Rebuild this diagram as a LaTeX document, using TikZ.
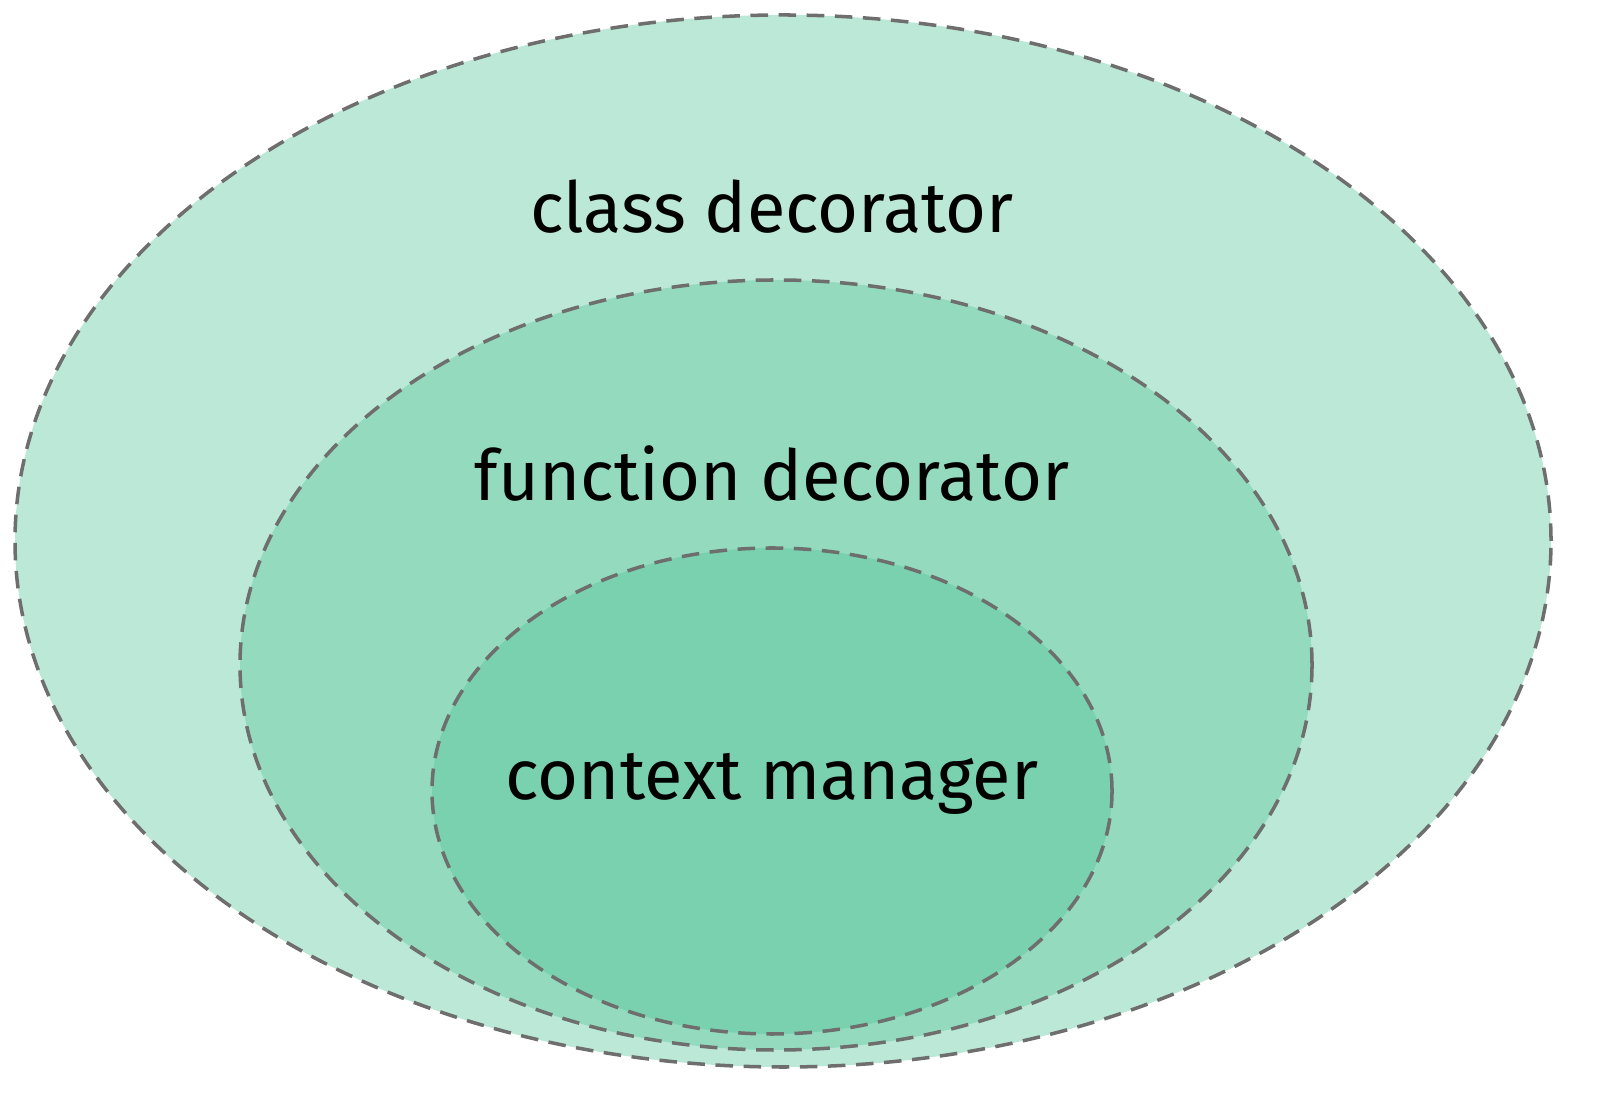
\documentclass[tikz,border=0pt]{standalone}
\usepackage{fontspec}
\setmainfont{Fira Sans}
\definecolor{hatch}{RGB}{80,195,150}
\definecolor{edge}{RGB}{110,110,110}
\tikzset{blob/.style={draw=edge,line width=1pt,dash pattern=on 5pt off 3pt,fill=hatch,fill opacity=0.38},
lab/.style={font=\fontsize{20}{24}\selectfont,text=black}}
\begin{document}
\begin{tikzpicture}
\useasboundingbox (0,0) rectangle (16,11.06);
\draw[blob] (7.83,5.65) ellipse [x radius=7.68,y radius=5.26];
\draw[blob] (7.76,4.41) ellipse [x radius=5.36,y radius=3.85];
\draw[blob] (7.72,3.15) ellipse [x radius=3.40,y radius=2.43];
\node[lab] (c) at (7.72,8.99) {class decorator};
\node[lab] (f) at (7.72,6.32) {function decorator};
\node[lab] (m) at (7.72,3.22) {context manager};
\end{tikzpicture}
\end{document}
